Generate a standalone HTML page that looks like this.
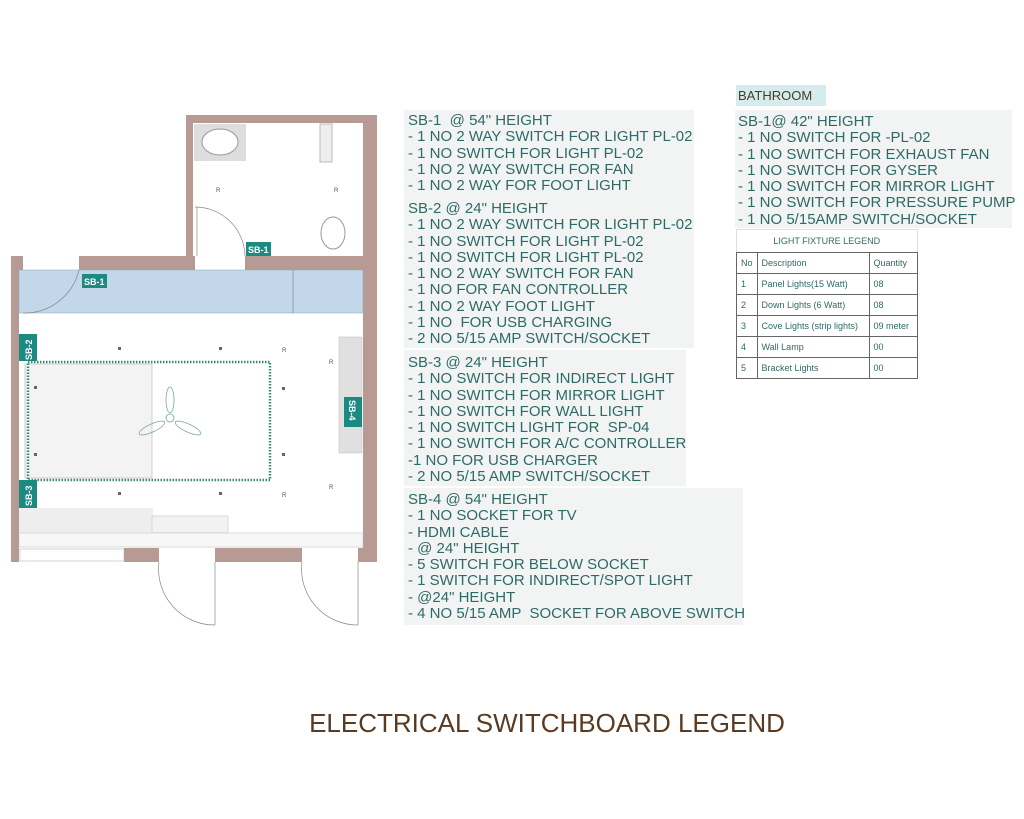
<!DOCTYPE html>
<html><head><meta charset="utf-8"><style>
body{margin:0;width:1024px;height:819px;background:#fff;position:relative;overflow:hidden;font-family:"Liberation Sans",sans-serif}
.bx{position:absolute;background:#f2f4f4}
.t{position:absolute;color:#2e6a66;font-size:15px;line-height:16.3px;white-space:pre}
table{position:absolute;left:736px;top:229px;border-collapse:collapse;font-size:9px;color:#2e6a66;font-family:"Liberation Sans",sans-serif}
td{border:1px solid #666;padding:0 4px;height:20px}
</style></head><body>
<div class="bx" style="left:404px;top:110px;width:290px;height:238px"></div>
<div class="bx" style="left:404px;top:350px;width:282px;height:136px"></div>
<div class="bx" style="left:404px;top:488px;width:339px;height:137px"></div>
<div class="bx" style="left:735px;top:110px;width:277px;height:118px"></div>
<div style="position:absolute;left:736px;top:85px;width:88px;height:21px;background:#d5ecec;color:#4a3a20;font-size:13px;line-height:21px;padding-left:2px">BATHROOM</div>
<div class="t" style="left:408px;top:113px">SB-1  @ 54" HEIGHT
- 1 NO 2 WAY SWITCH FOR LIGHT PL-02
- 1 NO SWITCH FOR LIGHT PL-02
- 1 NO 2 WAY SWITCH FOR FAN
- 1 NO 2 WAY FOR FOOT LIGHT</div>
<div class="t" style="left:408px;top:201px">SB-2 @ 24" HEIGHT
- 1 NO 2 WAY SWITCH FOR LIGHT PL-02
- 1 NO SWITCH FOR LIGHT PL-02
- 1 NO SWITCH FOR LIGHT PL-02
- 1 NO 2 WAY SWITCH FOR FAN
- 1 NO FOR FAN CONTROLLER
- 1 NO 2 WAY FOOT LIGHT
- 1 NO  FOR USB CHARGING
- 2 NO 5/15 AMP SWITCH/SOCKET</div>
<div class="t" style="left:408px;top:355px">SB-3 @ 24" HEIGHT
- 1 NO SWITCH FOR INDIRECT LIGHT
- 1 NO SWITCH FOR MIRROR LIGHT
- 1 NO SWITCH FOR WALL LIGHT
- 1 NO SWITCH LIGHT FOR  SP-04
- 1 NO SWITCH FOR A/C CONTROLLER
-1 NO FOR USB CHARGER
- 2 NO 5/15 AMP SWITCH/SOCKET</div>
<div class="t" style="left:408px;top:492px">SB-4 @ 54" HEIGHT
- 1 NO SOCKET FOR TV
- HDMI CABLE
- @ 24" HEIGHT
- 5 SWITCH FOR BELOW SOCKET
- 1 SWITCH FOR INDIRECT/SPOT LIGHT
- @24" HEIGHT
- 4 NO 5/15 AMP  SOCKET FOR ABOVE SWITCH</div>
<div class="t" style="left:738px;top:114px">SB-1@ 42" HEIGHT
- 1 NO SWITCH FOR -PL-02
- 1 NO SWITCH FOR EXHAUST FAN
- 1 NO SWITCH FOR GYSER
- 1 NO SWITCH FOR MIRROR LIGHT
- 1 NO SWITCH FOR PRESSURE PUMP
- 1 NO 5/15AMP SWITCH/SOCKET</div>
<table>
<tr><td colspan="3" style="text-align:center;height:22px;border-top-color:#ddd;border-left-color:#ddd;border-right-color:#ddd">LIGHT FIXTURE LEGEND</td></tr>
<tr><td style="width:10px">No</td><td style="width:103px">Description</td><td style="width:39px">Quantity</td></tr>
<tr><td>1</td><td>Panel Lights(15 Watt)</td><td>08</td></tr>
<tr><td>2</td><td>Down Lights (6 Watt)</td><td>08</td></tr>
<tr><td>3</td><td>Cove Lights (strip lights)</td><td>09 meter</td></tr>
<tr><td>4</td><td>Wall Lamp</td><td>00</td></tr>
<tr><td>5</td><td>Bracket Lights</td><td>00</td></tr>
</table>
<div style="position:absolute;left:0;width:1094px;top:708px;text-align:center;font-size:26px;color:#5a3a20">ELECTRICAL SWITCHBOARD LEGEND</div>
<svg style="position:absolute;left:0;top:0" width="400" height="640">
<g fill="#b89a94">
<rect x="186" y="115" width="191" height="8"/>
<rect x="186" y="115" width="7" height="141"/>
<rect x="363" y="115" width="14" height="447"/>
<rect x="11" y="256" width="12" height="14"/>
<rect x="79" y="256" width="116" height="14"/>
<rect x="245" y="256" width="118" height="14"/>
<rect x="11" y="270" width="8" height="292"/>
<rect x="124" y="548" width="35" height="14"/>
<rect x="215" y="548" width="87" height="14"/>
<rect x="358" y="548" width="5" height="14"/>
</g>
<rect x="19" y="270" width="344" height="43" fill="#c2d8ea" stroke="#8aa" stroke-width=".5"/>
<line x1="293" y1="270" x2="293" y2="313" stroke="#789" stroke-width=".7"/>
<rect x="194" y="124" width="52" height="37" fill="#ddd"/>
<ellipse cx="220" cy="142" rx="18" ry="13" fill="#fff" stroke="#999"/>
<rect x="320" y="124" width="12" height="38" fill="#eee" stroke="#bbb"/>
<ellipse cx="333" cy="233" rx="12" ry="16" fill="#fff" stroke="#999"/>
<path d="M195 207 A50 50 0 0 1 245 256" fill="none" stroke="#888" stroke-width=".7"/>
<line x1="197" y1="207" x2="197" y2="256" stroke="#888" stroke-width=".7"/>
<path d="M23 313 A56 56 0 0 0 79 270" fill="none" stroke="#888" stroke-width=".7"/>
<rect x="339" y="337" width="23" height="116" fill="#e0e0e0" stroke="#bbb" stroke-width=".5"/>
<rect x="25" y="364" width="127" height="114" fill="#f3f3f3" stroke="#bbb" stroke-width=".7"/>
<rect x="28" y="362" width="242" height="118" fill="none" stroke="#3a8a7a" stroke-width="2.5" stroke-dasharray="1.5 1.5"/>
<g stroke="#7a9" fill="none" stroke-width=".8"><circle cx="170" cy="418" r="4"/><ellipse cx="170" cy="400" rx="4" ry="13"/><ellipse cx="152" cy="428" rx="14" ry="4" transform="rotate(-25 152 428)"/><ellipse cx="188" cy="428" rx="14" ry="4" transform="rotate(25 188 428)"/></g>
<rect x="19" y="508" width="134" height="25" fill="#eee"/>
<rect x="152" y="516" width="76" height="17" fill="#f2f2f2" stroke="#bbb" stroke-width=".5"/>
<rect x="19" y="533" width="344" height="14" fill="#f7f7f7" stroke="#bbb" stroke-width=".5"/>
<rect x="20" y="549" width="104" height="12" fill="#fff" stroke="#aaa" stroke-width=".5"/>
<path d="M159 562 A56 56 0 0 0 215 625 M302 562 A56 56 0 0 0 358 625" fill="none" stroke="#888" stroke-width=".7"/>
<line x1="215" y1="562" x2="215" y2="625" stroke="#888" stroke-width=".7"/>
<line x1="358" y1="562" x2="358" y2="625" stroke="#888" stroke-width=".7"/>
<g fill="#1b8a80"><rect x="82" y="274" width="25" height="14"/><rect x="246" y="242" width="25" height="14"/><rect x="19" y="334" width="18" height="27"/><rect x="19" y="480" width="18" height="28"/><rect x="344" y="397" width="18" height="30"/></g>
<g fill="#fff" font-size="9" font-weight="bold" font-family="Liberation Sans">
<text x="84" y="285">SB-1</text><text x="248" y="253">SB-1</text>
<text transform="translate(32 360) rotate(-90)">SB-2</text>
<text transform="translate(32 506) rotate(-90)">SB-3</text>
<text transform="translate(349 400) rotate(90)">SB-4</text></g>
<g fill="#555" font-size="6"><text x="216" y="192">R</text><text x="334" y="192">R</text><text x="282" y="352">R</text><text x="329" y="364">R</text><text x="282" y="497">R</text><text x="329" y="489">R</text></g>
<g fill="#666"><rect x="118" y="347" width="3" height="3"/><rect x="219" y="347" width="3" height="3"/><rect x="34" y="386" width="3" height="3"/><rect x="282" y="387" width="3" height="3"/><rect x="34" y="453" width="3" height="3"/><rect x="282" y="453" width="3" height="3"/><rect x="118" y="492" width="3" height="3"/><rect x="219" y="492" width="3" height="3"/></g>
</svg>
</body></html>
